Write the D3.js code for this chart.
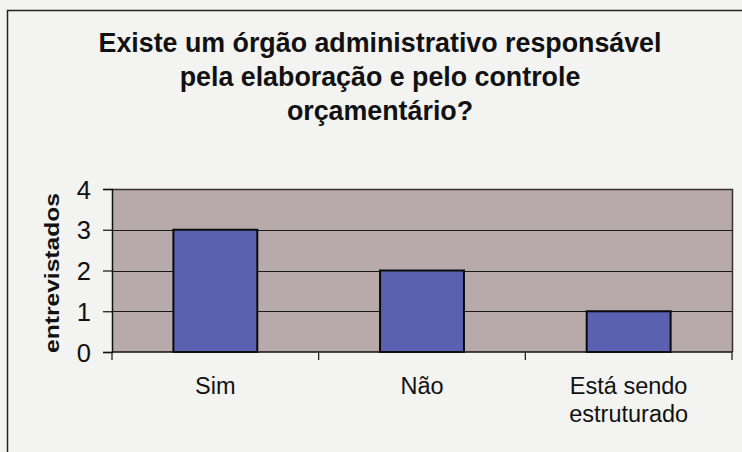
<!DOCTYPE html>
<html>
<head>
<meta charset="utf-8">
<script src="https://cdn.jsdelivr.net/npm/d3@7"></script>
<style>
  html, body { margin: 0; padding: 0; background: #f3f3f1; }
  svg { display: block; font-family: "Liberation Sans", Arial, sans-serif; }
</style>
</head>
<body>
<div id="chart"></div>
<script>
// chart data
var titleLines = ["Existe um órgão administrativo responsável", "pela elaboração e pelo controle", "orçamentário?"];
var categories = ["Sim", "Não", "Está sendo estruturado"];
var values = [3, 2, 1];
var yTicks = [0, 1, 2, 3, 4];
var yLabel = "entrevistados";

var width = 742, height = 452;
var margin = {top: 189, right: 10, bottom: 100, left: 112};
var plotW = width - margin.left - margin.right;

var svg = d3.select("#chart").append("svg")
    .attr("width", width)
    .attr("height", height);

// outer chart border (runs off the right and bottom of the picture)
svg.append("rect")
    .attr("x", 7.5).attr("y", 10.5)
    .attr("width", 760).attr("height", 460)
    .attr("fill", "#f3f3f1")
    .attr("stroke", "#222").attr("stroke-width", 1.5);

// title
svg.append("g").selectAll("text")
    .data(titleLines)
    .enter().append("text")
    .attr("x", 380)
    .attr("y", function(d, i) { return 52 + i * 34; })
    .attr("text-anchor", "middle")
    .style("font-size", "26.8px")
    .style("font-weight", "bold")
    .style("fill", "#111")
    .text(function(d) { return d; });

var x = d3.scaleBand()
    .domain(categories)
    .range([0, plotW])
    .paddingInner(0.594)
    .paddingOuter(0.297);

var y = d3.scaleLinear()
    .domain([0, 4])
    .range([163, 0]);

var g = svg.append("g")
    .attr("transform", "translate(" + margin.left + "," + margin.top + ")");

// plot area
g.append("rect")
    .attr("x", 0).attr("y", 0)
    .attr("width", plotW).attr("height", y(0))
    .attr("fill", "#b8aaab");

// gridlines
g.append("g").selectAll("line")
    .data(yTicks.filter(function(d) { return d > 0 && d < 4; }))
    .enter().append("line")
    .attr("x1", 0).attr("x2", plotW)
    .attr("y1", function(d) { return Math.round(y(d)) + 0.5; })
    .attr("y2", function(d) { return Math.round(y(d)) + 0.5; })
    .attr("stroke", "#1a1a1a")
    .attr("stroke-width", 1);

// top and right border of plot area
g.append("path")
    .attr("d", "M0," + (y(4) + 0.5) + "H" + (plotW + 0.5) + "V" + y(0))
    .attr("fill", "none")
    .attr("stroke", "#3a2f30")
    .attr("stroke-width", 1.5);

// bars
g.append("g").selectAll("rect")
    .data(values)
    .enter().append("rect")
    .attr("x", function(d, i) { return x(categories[i]); })
    .attr("y", function(d) { return y(d); })
    .attr("width", x.bandwidth())
    .attr("height", function(d) { return y(0) - y(d); })
    .attr("fill", "#5a61b0")
    .attr("stroke", "#0a0a0a")
    .attr("stroke-width", 2);

// y axis
var yAxis = g.append("g")
    .call(d3.axisLeft(y).tickValues(yTicks).tickFormat(d3.format("d")).tickSize(9).tickPadding(12));
yAxis.select(".domain").attr("stroke", "#111").attr("stroke-width", 1.5);
yAxis.selectAll(".tick line").attr("stroke", "#111").attr("stroke-width", 1.2);
yAxis.selectAll(".tick text")
    .style("font-size", "25.5px")
    .style("font-family", "Liberation Sans, Arial, sans-serif")
    .attr("fill", "#111")
    .attr("dy", "0.36em");

// x axis line and ticks between categories
var xTicks = d3.range(categories.length + 1).map(function(i) { return i * x.step(); });
g.append("line")
    .attr("x1", 0).attr("x2", plotW)
    .attr("y1", y(0)).attr("y2", y(0))
    .attr("stroke", "#111").attr("stroke-width", 1.5);
g.append("g").selectAll("line")
    .data(xTicks)
    .enter().append("line")
    .attr("x1", function(d) { return d; })
    .attr("x2", function(d) { return d; })
    .attr("y1", y(0)).attr("y2", y(0) + 8)
    .attr("stroke", "#111").attr("stroke-width", 1.2);

// category labels, wrapped
var catText = g.append("g").selectAll("text")
    .data(categories)
    .enter().append("text")
    .attr("x", function(d) { return x(d) + x.bandwidth() / 2; })
    .attr("y", y(0) + 42)
    .attr("text-anchor", "middle")
    .style("font-size", "23.5px")
    .style("fill", "#111")
    .text(function(d) { return d; });

catText.each(function() {
    var text = d3.select(this);
    var words = text.text().split(" ");
    var cx = text.attr("x");
    var line = [];
    text.text(null);
    var tspan = text.append("tspan").attr("x", cx);
    words.forEach(function(w) {
        line.push(w);
        tspan.text(line.join(" "));
        if (tspan.node().getComputedTextLength() > 190 && line.length > 1) {
            line.pop();
            tspan.text(line.join(" "));
            line = [w];
            tspan = text.append("tspan").attr("x", cx).attr("dy", 28).text(w);
        }
    });
});

// y axis title
svg.append("text")
    .attr("transform", "translate(59,273) rotate(-90)")
    .attr("text-anchor", "middle")
    .attr("textLength", 160)
    .attr("lengthAdjust", "spacingAndGlyphs")
    .style("font-size", "21px")
    .style("font-weight", "bold")
    .style("fill", "#111")
    .text(yLabel);
</script>
</body>
</html>
